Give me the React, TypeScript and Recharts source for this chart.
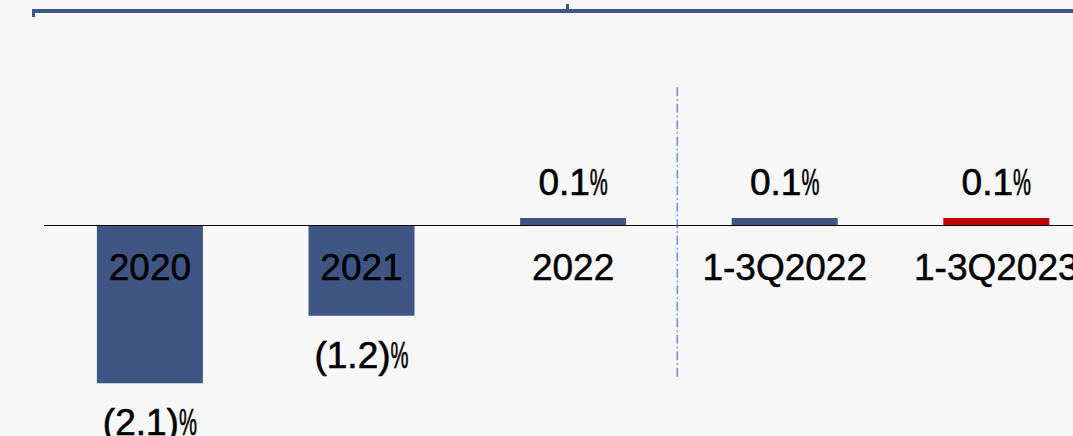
import React from 'react';
import { BarChart, Bar, XAxis, YAxis, ReferenceLine, ReferenceArea, LabelList, Cell } from 'recharts';

const categories = ['2020', '2021', '2022', '1-3Q2022', '1-3Q2023'];
const growth = [-2.1, -1.2, 0.1, 0.1, 0.1];
const barColors = ['#3f5584', '#3f5584', '#3f5584', '#3f5584', '#c00000'];
const divider = { from: '2022', to: '1-3Q2022', low: -2.03, high: 1.84 };

const data = categories.map((c, i) => ({ category: c, value: growth[i] }));

const FONT = '"Liberation Sans", Arial, sans-serif';

const fmt = (v: number) => (v < 0 ? `(${Math.abs(v).toFixed(1)})` : v.toFixed(1));

const span = (p: any) => {
  const y = Number(p.y);
  const h = Number(p.height);
  return { top: Math.min(y, y + h), bottom: Math.max(y, y + h) };
};

const ValueLabel = (p: any) => {
  const v = Number(p.value);
  const { top, bottom } = span(p);
  const cx = Number(p.x) + Number(p.width) / 2;
  const y = v < 0 ? bottom + 52 : top - 22.5;
  return (
    <text
      x={cx}
      y={y}
      textAnchor="middle"
      fontFamily={FONT}
      fontSize={37}
      fill="#000"
      stroke="#000"
      strokeWidth={0.6}
    >
      {fmt(v)}
      <tspan textLength={18} lengthAdjust="spacingAndGlyphs">%</tspan>
    </text>
  );
};

const CategoryLabel = (p: any) => {
  const idx = p.index;
  const v = growth[idx];
  const { top, bottom } = span(p);
  const zero = v < 0 ? top : bottom;
  const cx = Number(p.x) + Number(p.width) / 2;
  return (
    <text
      x={cx}
      y={zero + 54}
      textAnchor="middle"
      fontFamily={FONT}
      fontSize={37}
      fill="#000"
      stroke="#000"
      strokeWidth={0.5}
    >
      {p.value}
    </text>
  );
};

const DividerShape = (p: any) => {
  const x = Number(p.x) + Number(p.width) / 2 - 1.5;
  return (
    <line
      x1={x}
      x2={x}
      y1={p.y}
      y2={Number(p.y) + Number(p.height)}
      stroke="#7094d6"
      strokeWidth={1.6}
      strokeDasharray="9 3 1.5 3"
    />
  );
};

export default function App() {
  return (
    <div
      style={{
        position: 'absolute',
        left: 0,
        top: 0,
        width: 1073,
        height: 436,
        overflow: 'hidden',
        background: '#f7f7f7',
      }}
    >
      <svg width={1073} height={30} style={{ position: 'absolute', left: 0, top: 0 }}>
        <rect x={33} y={9} width={1040} height={4} fill="#3e5585" />
        <rect x={32} y={9} width={3} height={8} fill="#3e5585" />
        <rect x={566} y={4} width={3} height={6} fill="#3e5585" />
      </svg>
      <div style={{ position: 'absolute', left: 0, top: 0 }}>
        <BarChart
          width={1102}
          height={451}
          data={data}
          margin={{ top: 0, right: 0, bottom: 0, left: 44 }}
          barCategoryGap="25%"
        >
          <XAxis dataKey="category" hide />
          <YAxis hide domain={[-3, 3]} type="number" allowDataOverflow />
          <ReferenceArea
            x1={divider.from}
            x2={divider.to}
            y1={divider.low}
            y2={divider.high}
            shape={DividerShape}
            ifOverflow="visible"
          />
          <Bar dataKey="value" isAnimationActive={false}>
            {data.map((d, i) => (
              <Cell key={d.category} fill={barColors[i]} />
            ))}
            <LabelList dataKey="value" content={ValueLabel} />
            <LabelList dataKey="category" content={CategoryLabel} />
          </Bar>
          <ReferenceLine y={0} stroke="#000" strokeWidth={1} ifOverflow="visible" />
        </BarChart>
      </div>
    </div>
  );
}
